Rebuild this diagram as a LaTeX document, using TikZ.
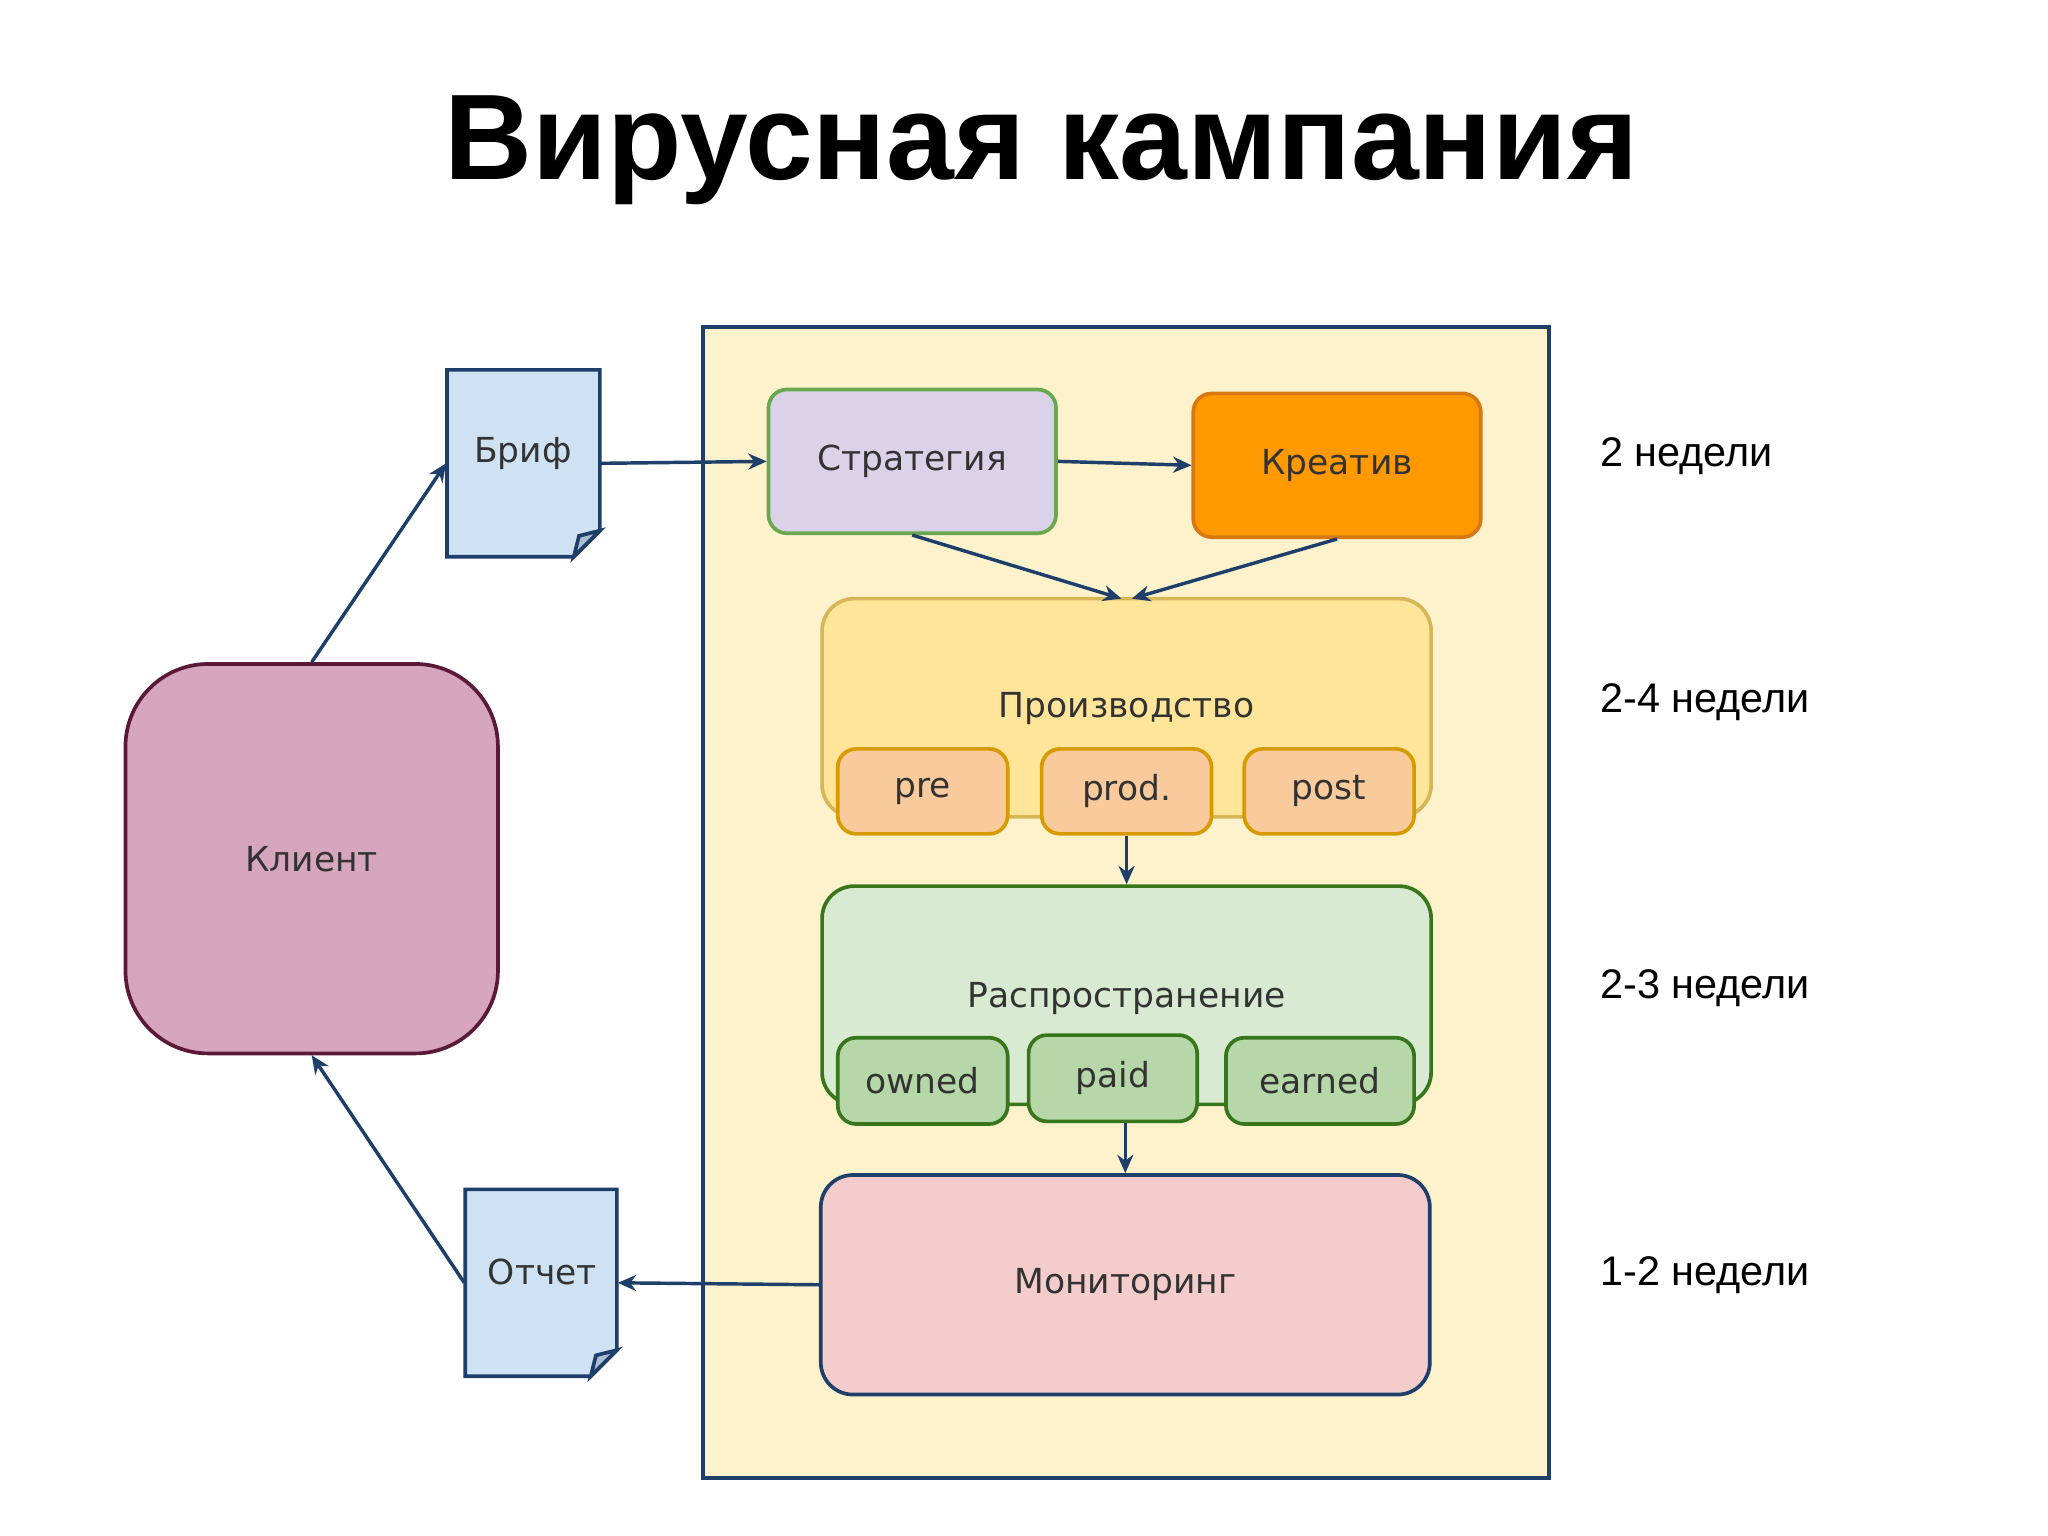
\documentclass[tikz,border=0pt]{standalone}
\usepackage{fontspec}
\setmainfont{DejaVu Sans}
\newfontfamily\titlefont{Liberation Sans}
\usetikzlibrary{arrows.meta,fit}
\definecolor{navy}{HTML}{1F3F6B}
\begin{document}
\begin{tikzpicture}[x=0.01cm,y=-0.01cm,
  box/.style={draw, line width=0.8pt, rounded corners=4pt, inner sep=0pt, font=\fontsize{7.5}{9}\selectfont, text=black!80},
  docbox/.style={inner sep=0pt, font=\fontsize{7.5}{9}\selectfont, text=black!80},
  conn/.style={draw=navy, line width=0.75pt, -{Stealth[length=4pt,width=3.5pt]}},
  week/.style={anchor=west, font=\titlefont\fontsize{9}{11}\selectfont}]
\fill[white] (0,0) rectangle (1567,1175);
\useasboundingbox (0,0) rectangle (1567,1175);
\node[font=\titlefont\bfseries\fontsize{26.5}{32}\selectfont] (title) at (797,115) {Вирусная кампания};
% main frame
\node[draw=navy, fill={rgb,255:red,253;green,242;blue,204}, line width=0.8pt, inner sep=0pt, fit={(538,250)(1185,1131)}] (frame) {};
% documents
\foreach \nm/\xa/\ya/\xb/\yb/\tx/\ty/\lab in {brief/342/283/459/426/400/347/Бриф, report/356/910/472/1053/415/973/Отчет}{
  \draw[draw=navy, fill={rgb,255:red,207;green,226;blue,243}, line width=0.8pt]
    (\xa,\ya) -- (\xb,\ya) -- (\xb,\yb-20) -- (\xb-20,\yb) -- (\xa,\yb) -- cycle;
  \draw[draw=navy, line width=0.8pt, fill={rgb,255:red,170;green,190;blue,210}] (\xb,\yb-20) -- (\xb-16,\yb-16) -- (\xb-20,\yb) -- cycle;
  \node[docbox, fit={(\xa,\ya)(\xb,\yb)}] (\nm) {};
  \node[docbox] (\nm t) at (\tx,\ty) {\lab};
}
\node[box, rounded corners=18pt, draw={rgb,255:red,90;green,25;blue,55}, fill={rgb,255:red,213;green,166;blue,189}, fit={(96,508)(381,806)}] (client) {};
\node[docbox] (clientt) at (client.center) {Клиент};
\node[box, draw={rgb,255:red,106;green,168;blue,79}, fill={rgb,255:red,217;green,210;blue,233}, fit={(588,298)(808,408)}] (strat) {};
\node[docbox] at (strat.center) {Стратегия};
\node[box, draw={rgb,255:red,215;green,120;blue,20}, fill={rgb,255:red,255;green,153;blue,0}, fit={(913,301)(1133,411)}] (creat) {};
\node[docbox] at (creat.center) {Креатив};
\node[box, rounded corners=7pt, draw={rgb,255:red,214;green,182;blue,86}, fill={rgb,255:red,255;green,229;blue,153}, fit={(629,458)(1095,625)}] (prod) {};
\node[docbox] at (862,542) {Производство};
\foreach \nm/\xa/\xb/\lab in {pre/641/771/pre, prd/797/927/prod., post/952/1082/post}{
  \node[box, draw={rgb,255:red,215;green,155;blue,0}, fill={rgb,255:red,249;green,203;blue,156}, fit={(\xa,573)(\xb,638)}] (\nm) {};
  \node[docbox] at (\nm.center) {\lab};
}
\node[box, rounded corners=7pt, draw={rgb,255:red,56;green,118;blue,29}, fill={rgb,255:red,217;green,234;blue,211}, fit={(629,678)(1095,845)}] (dist) {};
\node[docbox] at (862,764) {Распространение};
\foreach \nm/\xa/\xb/\ya/\yb/\lab in {owned/641/771/794/860/owned, paid/787/916/792/858/paid, earned/938/1082/794/860/earned}{
  \node[box, draw={rgb,255:red,56;green,118;blue,29}, fill={rgb,255:red,182;green,215;blue,168}, fit={(\xa,\ya)(\xb,\yb)}] (\nm) {};
  \node[docbox] at (\nm.center) {\lab};
}
\node[box, rounded corners=7pt, draw=navy, fill={rgb,255:red,244;green,204;blue,204}, fit={(628,899)(1094,1067)}] (mon) {};
\node[docbox] at (mon.center) {Мониторинг};
% connectors
\draw[conn] (client.north) -- (brief.west);
\draw[conn] (brief.east) -- (strat.west);
\draw[conn] (strat.east) -- (creat.west);
\coordinate (pin1) at (858,458);
\coordinate (pin2) at (866,458);
\draw[conn] (strat.south) -- (pin1);
\draw[conn] (creat.south) -- (pin2);
\draw[conn] (prd.south -| dist.north) -- (dist.north);
\draw[conn] (paid.south -| mon.north) -- (mon.north);
\draw[conn] (mon.west) -- (report.east);
\draw[conn] (report.west) -- (client.south);
% weeks
\node[week] (w1) at (1212,349) {2 недели};
\node[week] (w2) at (1212,537) {2-4 недели};
\node[week] (w3) at (1212,756) {2-3 недели};
\node[week] (w4) at (1212,976) {1-2 недели};
\end{tikzpicture}
\end{document}
